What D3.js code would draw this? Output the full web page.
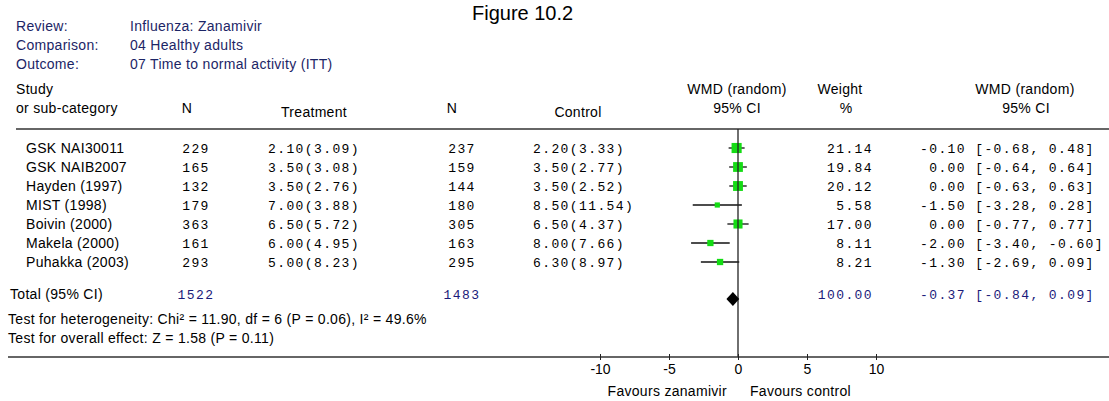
<!DOCTYPE html>
<meta charset="utf-8">
<style>
body { margin: 0; background: #fff; }
svg { display: block; }
.sans { font-family: "Liberation Sans", Arial, sans-serif; font-size: 14px; letter-spacing: 0.3px; fill: #000; }
.mono { font-family: "Liberation Mono", "Courier New", monospace; font-size: 13px; letter-spacing: 1.4px; fill: #000; white-space: pre; }
.info { fill: #1c2566; }
.total { fill: #1a1a7a; }
.rule { stroke: #333; stroke-width: 1.5px; }
.ci { stroke: #111; stroke-width: 1.3px; }
.axis text { font-family: "Liberation Sans", Arial, sans-serif; font-size: 14px; }
</style>

<div id="forest"></div>
<script src="https://d3js.org/d3.v7.min.js"></script>
<script>

// Study rows
var studies = ["GSK NAI30011", "GSK NAIB2007", "Hayden (1997)", "MIST (1998)", "Boivin (2000)", "Makela (2000)", "Puhakka (2003)"];
var nTreat = [229, 165, 132, 179, 363, 161, 293];
var treat = ["2.10(3.09)", "3.50(3.08)", "3.50(2.76)", "7.00(3.88)", "6.50(5.72)", "6.00(4.95)", "5.00(8.23)"];
var nCtrl = [237, 159, 144, 180, 305, 163, 295];
var ctrl = ["2.20(3.33)", "3.50(2.77)", "3.50(2.52)", "8.50(11.54)", "6.50(4.37)", "8.00(7.66)", "6.30(8.97)"];
var weight = [21.14, 19.84, 20.12, 5.58, 17.00, 8.11, 8.21];
var wmd = [-0.10, 0.00, 0.00, -1.50, 0.00, -2.00, -1.30];
var lower = [-0.68, -0.64, -0.63, -3.28, -0.77, -3.40, -2.69];
var upper = [0.48, 0.64, 0.63, 0.28, 0.77, -0.60, 0.09];

// Pooled result
var totalN = [1522, 1483];
var totalWeight = 100.00;
var totalWmd = [-0.37, -0.84, 0.09];

var infoLabels = ["Review:", "Comparison:", "Outcome:"];
var infoValues = ["Influenza: Zanamivir", "04 Healthy adults", "07 Time to normal activity (ITT)"];
var tests = ["Test for heterogeneity: Chi\u00b2 = 11.90, df = 6 (P = 0.06), I\u00b2 = 49.6%",
             "Test for overall effect: Z = 1.58 (P = 0.11)"];
var ticks = [-10, -5, 0, 5, 10];
var favours = ["Favours zanamivir", "Favours control"];

var width = 1109, height = 401;

var svg = d3.select("#forest").append("svg")
  .attr("width", width)
  .attr("height", height);

var x = d3.scaleLinear().domain([-10, 10]).range([600, 876]);
var y = d3.scaleLinear().domain([0, 1]).range([148, 167]); // row index -> y

function fmt(v) { return v.toFixed(2); }
function pad(s, n) { while (s.length < n) s = " " + s; return s; }

// title
svg.append("text")
  .attr("x", 472).attr("y", 20)
  .style("font-family", "'Liberation Sans', Arial, sans-serif")
  .style("font-size", "20px")
  .text("Figure 10.2");

// review info
infoLabels.forEach(function(d, i) {
  svg.append("text").attr("class", "sans info")
    .attr("x", 16).attr("y", 31 + i * 19).text(d);
  svg.append("text").attr("class", "sans info")
    .attr("x", 130).attr("y", 31 + i * 19).text(infoValues[i]);
});

// column headers
var hdr = [
  ["Study", 16, 94, "start"],
  ["or sub-category", 16, 113, "start"],
  ["N", 187, 113, "middle"],
  ["Treatment", 314, 117, "middle"],
  ["N", 452, 113, "middle"],
  ["Control", 578, 117, "middle"],
  ["WMD (random)", 737, 94, "middle"],
  ["95% CI", 737, 113, "middle"],
  ["Weight", 840, 94, "middle"],
  ["%", 846, 113, "middle"],
  ["WMD (random)", 1025, 94, "middle"],
  ["95% CI", 1026, 113, "middle"]
];
svg.selectAll("text.hdr")
  .data(hdr)
  .enter().append("text")
  .attr("class", "sans hdr")
  .attr("x", function(d) { return d[1]; })
  .attr("y", function(d) { return d[2]; })
  .attr("text-anchor", function(d) { return d[3]; })
  .text(function(d) { return d[0]; });

svg.append("line").attr("class", "rule")
  .attr("x1", 16).attr("x2", width).attr("y1", 129).attr("y2", 129);

// study rows
var rows = svg.selectAll("g.row")
  .data(studies)
  .enter().append("g")
  .attr("class", "row")
  .attr("transform", function(d, i) { return "translate(0," + y(i) + ")"; });

rows.append("text").attr("class", "sans").attr("x", 26).attr("dy", "0.35em")
  .text(function(d) { return d; });
rows.append("text").attr("class", "mono").attr("x", 196).attr("dy", "0.35em")
  .attr("text-anchor", "middle")
  .text(function(d, i) { return nTreat[i]; });
rows.append("text").attr("class", "mono").attr("x", 268).attr("dy", "0.35em")
  .text(function(d, i) { return treat[i]; });
rows.append("text").attr("class", "mono").attr("x", 462).attr("dy", "0.35em")
  .attr("text-anchor", "middle")
  .text(function(d, i) { return nCtrl[i]; });
rows.append("text").attr("class", "mono").attr("x", 533).attr("dy", "0.35em")
  .text(function(d, i) { return ctrl[i]; });
rows.append("text").attr("class", "mono").attr("x", 873).attr("dy", "0.35em")
  .attr("text-anchor", "end")
  .text(function(d, i) { return fmt(weight[i]); });
rows.append("text").attr("class", "mono").attr("x", 920).attr("dy", "0.35em")
  .attr("xml:space", "preserve")
  .text(function(d, i) {
    return pad(fmt(wmd[i]), 5) + " [" + fmt(lower[i]) + ", " + fmt(upper[i]) + "]";
  });

// zero line
svg.append("line")
  .attr("stroke", "#222").attr("stroke-width", 1.3)
  .attr("x1", x(0)).attr("x2", x(0)).attr("y1", 129).attr("y2", 357);

// CI lines and boxes
rows.append("line").attr("class", "ci")
  .attr("x1", function(d, i) { return x(lower[i]); })
  .attr("x2", function(d, i) { return x(upper[i]); });
rows.append("rect")
  .attr("fill", "#14dc14")
  .each(function(d, i) {
    var s = Math.sqrt(weight[i]) * 2.2;
    d3.select(this)
      .attr("x", x(wmd[i]) - s / 2).attr("y", -s / 2)
      .attr("width", s).attr("height", s);
  });

// total row
var ty = 294;
svg.append("text").attr("class", "sans").attr("x", 10).attr("y", ty).attr("dy", "0.35em")
  .text("Total (95% CI)");
svg.append("text").attr("class", "mono total").attr("x", 196).attr("y", ty).attr("dy", "0.35em")
  .attr("text-anchor", "middle").text(totalN[0]);
svg.append("text").attr("class", "mono total").attr("x", 462).attr("y", ty).attr("dy", "0.35em")
  .attr("text-anchor", "middle").text(totalN[1]);
svg.append("text").attr("class", "mono total").attr("x", 873).attr("y", ty).attr("dy", "0.35em")
  .attr("text-anchor", "end").text(fmt(totalWeight));
svg.append("text").attr("class", "mono total").attr("x", 920).attr("y", ty).attr("dy", "0.35em")
  .attr("xml:space", "preserve")
  .text(pad(fmt(totalWmd[0]), 5) + " [" + fmt(totalWmd[1]) + ", " + fmt(totalWmd[2]) + "]");

var dy = 299;
svg.append("path")
  .attr("fill", "#000")
  .attr("d", "M" + x(totalWmd[1]) + "," + dy +
    "L" + x(totalWmd[0]) + "," + (dy - 7) +
    "L" + x(totalWmd[2]) + "," + dy +
    "L" + x(totalWmd[0]) + "," + (dy + 7) + "Z");

// tests
tests.forEach(function(t, i) {
  svg.append("text").attr("class", "sans").attr("x", 8).attr("y", 319 + i * 19).attr("dy", "0.35em")
    .text(t);
});

// axis
svg.append("line").attr("class", "rule")
  .attr("x1", 8).attr("x2", width).attr("y1", 357).attr("y2", 357);

var axis = svg.append("g")
  .attr("class", "axis")
  .attr("transform", "translate(0,357)")
  .call(d3.axisBottom(x).tickValues(ticks).tickSize(3).tickPadding(4)
    .tickFormat(function(d) { return String(d); }));
axis.select(".domain").remove();
axis.selectAll(".tick line").attr("y1", -3).attr("y2", 3).attr("stroke", "#222");
axis.selectAll(".tick text").attr("fill", "#000");

svg.append("text").attr("class", "sans").attr("x", 727).attr("y", 391).attr("dy", "0.35em")
  .attr("text-anchor", "end").text(favours[0]);
svg.append("text").attr("class", "sans").attr("x", 750).attr("y", 391).attr("dy", "0.35em")
  .text(favours[1]);
</script>
